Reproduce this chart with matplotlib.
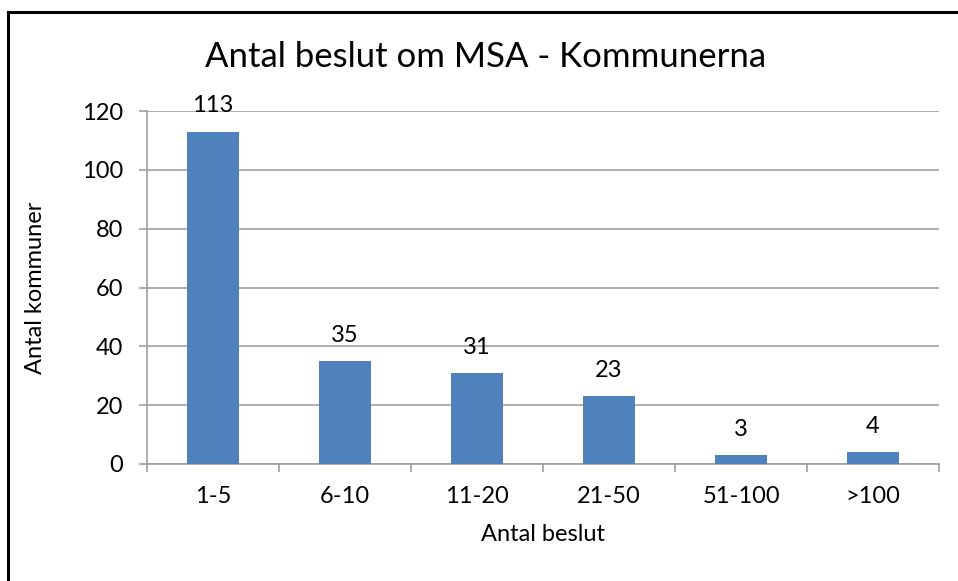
import matplotlib.pyplot as plt
from matplotlib.lines import Line2D

# data
categories = ["1-5", "6-10", "11-20", "21-50", "51-100", ">100"]
counts = [113, 35, 31, 23, 3, 4]
y_ticks = [0, 20, 40, 60, 80, 100, 120]

BAR_COLOR = "#4F81BD"
GRID_COLOR = "#A0A0A0"

plt.rcParams['font.family'] = ['Lato', 'DejaVu Sans']

fig = plt.figure(figsize=(9.58, 5.81), dpi=100)
ax = fig.add_axes([147 / 958, 1 - 464 / 581, (939 - 147) / 958, (464 - 111) / 581])

x = list(range(len(categories)))
ax.bar(x, counts, width=0.4, color=BAR_COLOR, zorder=3)

for xi, v in zip(x, counts):
    ax.annotate(str(v), (xi, v), xytext=(0, 11), textcoords="offset points",
                ha="center", va="bottom", fontsize=17)

ax.set_xlim(-0.5, len(categories) - 0.5)
ax.set_ylim(0, 120)
ax.set_yticks(y_ticks)
ax.set_xticks(x)
ax.set_xticklabels(categories)
ax.set_xticks([i - 0.5 for i in range(len(categories) + 1)], minor=True)

ax.grid(axis="y", color=GRID_COLOR, linewidth=1.2, zorder=0)
for side in ["top", "right"]:
    ax.spines[side].set_visible(False)
for side in ["left", "bottom"]:
    ax.spines[side].set_color(GRID_COLOR)
    ax.spines[side].set_linewidth(1.2)

ax.tick_params(axis="y", length=6, color=GRID_COLOR, width=1.2, labelsize=17, pad=11)
ax.tick_params(axis="x", which="major", length=0, labelsize=17, pad=16)
ax.tick_params(axis="x", which="minor", length=6, color=GRID_COLOR, width=1.2)

ax.set_xlabel("Antal beslut", fontsize=17, labelpad=12)
ax.set_ylabel("Antal kommuner", fontsize=17, labelpad=26)
fig.text(486 / 958, 1 - 57 / 581, "Antal beslut om MSA - Kommunerna",
         ha="center", va="center", fontsize=25)

# chart border (only top and left edges visible in the crop)
fig.add_artist(Line2D([8 / 958, 8 / 958], [0, 1 - 12 / 581], color="black", linewidth=2.2))
fig.add_artist(Line2D([8 / 958, 1], [1 - 12 / 581, 1 - 12 / 581], color="black", linewidth=2.2))

fig.savefig("out.png", dpi=100)
